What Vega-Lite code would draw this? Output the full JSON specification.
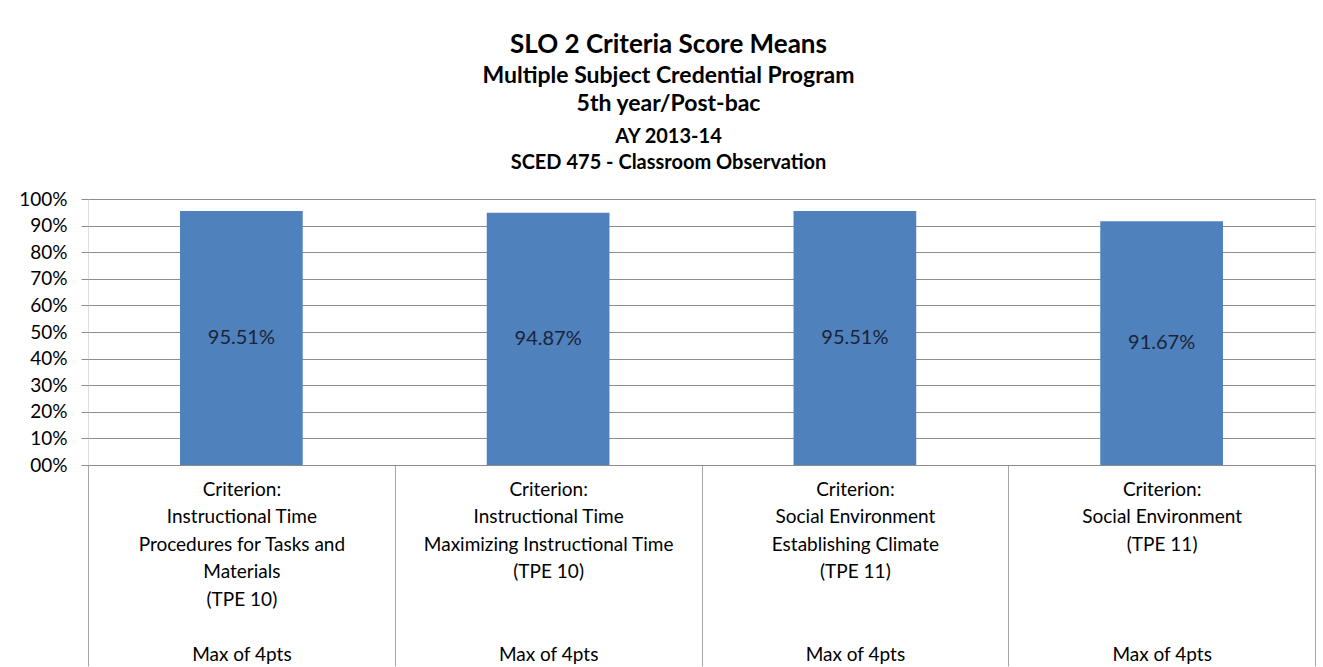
{
  "$schema": "https://vega.github.io/schema/vega-lite/v6.json",
  "autosize": {"type": "pad"},
  "padding": {"left": 18, "top": 31, "right": 8, "bottom": 0},
  "background": "white",
  "title": {
    "text": "SLO 2 Criteria Score Means",
    "subtitle": ["Multiple Subject Credential Program", "5th year/Post-bac"],
    "font": "Lato",
    "fontSize": 26,
    "fontWeight": "bold",
    "color": "#000000",
    "subtitleFont": "Lato",
    "subtitleFontSize": 23,
    "subtitleFontWeight": "bold",
    "subtitleColor": "#000000",
    "subtitleLineHeight": 28,
    "subtitlePadding": 7,
    "anchor": "middle",
    "frame": "group",
    "dx": -33,
    "offset": 11
  },
  "data": {
    "values": [
      {"criterion": "Criterion:|Instructional Time|Procedures for Tasks and|Materials|(TPE 10)|\u200b|Max of 4pts", "value": 95.51},
      {"criterion": "Criterion:|Instructional Time|Maximizing Instructional Time|(TPE 10)|\u200b|\u200b|Max of 4pts", "value": 94.87},
      {"criterion": "Criterion:|Social Environment|Establishing Climate|(TPE 11)|\u200b|\u200b|Max of 4pts", "value": 95.51},
      {"criterion": "Criterion:|Social Environment|(TPE 11)|\u200b|\u200b|\u200b|Max of 4pts", "value": 91.67}
    ]
  },
  "vconcat": [
    {
      "width": 1227,
      "height": 266,
      "title": {
        "text": ["AY 2013-14", "SCED 475 - Classroom Observation"],
        "font": "Lato",
        "fontSize": 20,
        "fontWeight": "bold",
        "color": "#000000",
        "lineHeight": 26,
        "anchor": "middle",
        "frame": "group",
        "dx": -33,
        "offset": 17
      },
      "transform": [
        {"calculate": "datum.value / 2", "as": "mid"},
        {"calculate": "format(datum.value, '.2f') + '%'", "as": "label"}
      ],
      "encoding": {
        "x": {
          "field": "criterion",
          "type": "nominal",
          "sort": null,
          "scale": {"paddingInner": 0, "paddingOuter": 0},
          "axis": {
            "title": null,
            "labelExpr": "split(datum.label, '|')",
            "labelAngle": 0,
            "labelFont": "Lato",
            "labelFontSize": 19,
            "labelLineHeight": 27.5,
            "labelBaseline": "top",
            "labelColor": "#000000",
            "labelLimit": 400,
            "labelOverlap": false,
            "tickBand": "extent",
            "tickSize": 201,
            "tickColor": "#a6a6a6",
            "labelPadding": -186,
            "domainColor": "#8c8c8c",
            "grid": false
          }
        }
      },
      "layer": [
        {
          "mark": {"type": "bar", "color": "#4f81bd", "width": {"band": 0.4}},
          "encoding": {
            "y": {
              "field": "value",
              "type": "quantitative",
              "scale": {"domain": [0, 100]},
              "axis": {
                "title": null,
                "values": [0, 10, 20, 30, 40, 50, 60, 70, 80, 90, 100],
                "labelExpr": "datum.value == 0 ? '00%' : datum.value + '%'",
                "labelOverlap": false,
                "domain": false,
                "tickSize": 7,
                "tickColor": "#8c8c8c",
                "grid": true,
                "gridColor": "#8c8c8c",
                "labelFont": "Lato",
                "labelFontSize": 19,
                "labelColor": "#000000",
                "labelPadding": 14
              }
            }
          }
        },
        {
          "mark": {"type": "text", "font": "Lato", "fontSize": 20, "color": "#1c2338", "baseline": "middle"},
          "encoding": {
            "y": {
              "field": "mid",
              "type": "quantitative",
              "axis": {
                "title": null,
                "values": [0, 10, 20, 30, 40, 50, 60, 70, 80, 90, 100],
                "labelExpr": "datum.value == 0 ? '00%' : datum.value + '%'",
                "labelOverlap": false,
                "domain": false,
                "tickSize": 7,
                "tickColor": "#8c8c8c",
                "grid": true,
                "gridColor": "#8c8c8c",
                "labelFont": "Lato",
                "labelFontSize": 19,
                "labelColor": "#000000",
                "labelPadding": 14
              }
            },
            "text": {"field": "label", "type": "nominal"}
          }
        }
      ]
    }
  ]
}
